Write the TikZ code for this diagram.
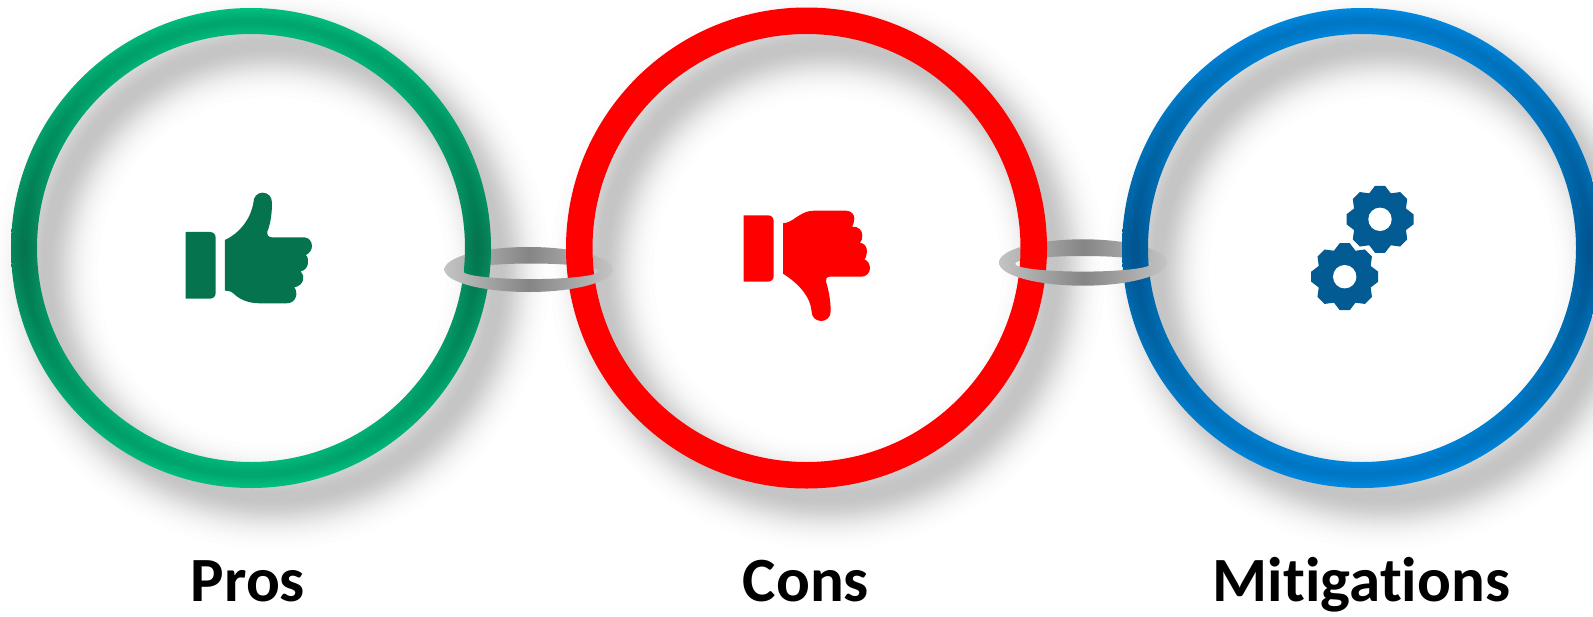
\documentclass[tikz,border=0pt]{standalone}
\usepackage{fontspec}
\setmainfont{Carlito}[Ligatures=CommonOff]
\definecolor{thumbgreen}{HTML}{05744E}
\definecolor{gearblue}{HTML}{025B92}
\definecolor{greenlight}{HTML}{00BE7C}
\definecolor{greendark}{HTML}{07835A}
\definecolor{bluelight}{HTML}{0088DF}
\definecolor{bluedark}{HTML}{00609F}
\definecolor{redring}{HTML}{FF0000}
\definecolor{linkend}{HTML}{C4C4C4}
\definecolor{linkmid}{HTML}{858585}
\tikzset{
  label text/.style={font=\fontsize{63}{69}\selectfont\bfseries, text=black, anchor=base, inner sep=0pt},
  shadow layer/.style={black, opacity=0.0085, fill=none},
  link shade/.style={even odd rule, left color=linkend, right color=linkend, middle color=linkmid},
}
\newcommand{\ringshadow}[1]{%
  \foreach \w in {104,93,86,80,76,72,68,65,62,59,57,54,52,49,47,45,43,40,38,36,34,32,29,27,24,21,18,15,10}{
    \draw[shadow layer, line width=\w pt] ([shift={(21,23)}]#1) circle[radius=226];
  }}
\newcommand{\ringbevel}[1]{%
  \foreach \w in {21,16,11,6}{
    \draw[black, opacity=0.022, line width=\w pt] (#1) circle[radius=227];
  }}
\newcommand{\gearicon}[1]{%
  \fill[gearblue] (#1) circle[radius=27.5];
  \foreach \a in {0,45,...,315}{
    \fill[gearblue, shift={(#1)}, rotate=\a]
      (-11.5,-25) -- (-5,-33.5) -- (5,-33.5) -- (11.5,-25) -- cycle;
  }
  \fill[white] (#1) circle[radius=11.7];}
\newcommand{\linkband}[6]{%
  \shade[link shade] (#1,#2) ellipse[x radius=#3, y radius=#4]
                     (#5,#6) ellipse[x radius=68, y radius=7.8];}
\begin{document}
\begin{tikzpicture}[x=1pt,y=-1pt]
\useasboundingbox (0,0) rectangle (1593,616);
\clip (0,0) rectangle (1593,616);
\fill[white] (0,0) rectangle (1593,616);
\coordinate (pc) at (251,248);
\coordinate (cc) at (806.5,248);
\coordinate (mc) at (1362,248);
% shadows
\ringshadow{pc}
\ringshadow{cc}
\ringshadow{mc}
% back halves of the links
\begin{scope}
  \clip (430,230) rectangle (630,271);
  \linkband{528.5}{269.5}{84}{22.5}{531}{271.3}
\end{scope}
\begin{scope}
  \clip (985,225) rectangle (1180,263.5);
  \linkband{1083}{262.5}{84}{23.2}{1083}{263.8}
\end{scope}
% rings
\shade[even odd rule, top color=greenlight, bottom color=greenlight, middle color=greendark]
  (pc) circle[radius=240] (pc) circle[radius=214];
\ringbevel{pc}
\fill[even odd rule, redring] (cc) circle[radius=240.5] (cc) circle[radius=214];
\shade[even odd rule, top color=bluelight, bottom color=bluelight, middle color=bluedark]
  (mc) circle[radius=240] (mc) circle[radius=214];
\ringbevel{mc}
% front halves of the links
\begin{scope}
  \clip (430,271) rectangle (630,300);
  \linkband{528.5}{269.5}{84}{22.5}{531}{271.3}
\end{scope}
\begin{scope}
  \clip (985,263.5) rectangle (1180,295);
  \linkband{1083}{262.5}{84}{23.2}{1083}{263.8}
\end{scope}
% thumb up
\begin{scope}[shift={(150,170)},x=0.3333pt,y=-0.3333pt]
  \fill[thumbgreen] (107,186) -- (180,186) .. controls (190,186) and (197,193) .. (197,203)
    -- (197,369) .. controls (197,379) and (190,386) .. (180,386) -- (107,386) -- cycle;
  \fill[thumbgreen] (225,210) .. controls (270,188) and (300,150) .. (310,100)
    .. controls (310,80) and (322,68) .. (338,68)
    .. controls (354,68) and (366,80) .. (366,98)
    .. controls (366,130) and (362,160) .. (352,185)
    .. controls (350,195) and (356,202) .. (365,202)
    -- (462,202) .. controls (476,202) and (486,214) .. (486,228)
    .. controls (486,240) and (478,250) .. (468,255)
    .. controls (480,268) and (476,300) .. (452,304)
    .. controls (467,317) and (462,347) .. (433,352)
    .. controls (445,367) and (440,400) .. (410,400)
    -- (330,400) .. controls (290,400) and (265,385) .. (250,370)
    .. controls (240,362) and (232,362) .. (225,362) -- cycle;
\end{scope}
% thumb down
\begin{scope}[shift={(720,190)},x=0.3333pt,y=-0.3333pt]
  \fill[redring] (71,76) -- (144,76) .. controls (154,76) and (161,83) .. (161,93)
    -- (161,258) .. controls (161,268) and (154,275) .. (144,275) -- (71,275) -- cycle;
  \fill[redring] (189,100) .. controls (215,97) and (225,82) .. (245,72)
    .. controls (258,65) and (270,62) .. (285,62) -- (378,62)
    .. controls (395,62) and (403,75) .. (403,85)
    .. controls (403,95) and (400,105) .. (396,110)
    .. controls (415,108) and (427,122) .. (427,135)
    .. controls (427,145) and (425,155) .. (420,158)
    .. controls (435,160) and (441,172) .. (441,185)
    .. controls (441,195) and (437,205) .. (433,208)
    .. controls (445,212) and (450,225) .. (450,235)
    .. controls (450,250) and (437,260) .. (425,260) -- (330,260)
    .. controls (320,260) and (316,268) .. (318,275)
    .. controls (326,300) and (332,330) .. (332,365)
    .. controls (332,382) and (318,393) .. (304,393)
    .. controls (288,393) and (275,382) .. (275,365)
    .. controls (272,320) and (235,280) .. (189,251) -- cycle;
\end{scope}
% gears
\coordinate (gearA) at (1380,219.3);
\coordinate (gearB) at (1344.7,276.7);
\gearicon{gearA}
\gearicon{gearB}
% labels
\node[label text] (pros) at (248,601.7) {Pros};
\node[label text] (cons) at (806,601.7) {Cons};
\node[label text] (mitigations) at (1361.5,601.7) {Mitigations};
\end{tikzpicture}
\end{document}
